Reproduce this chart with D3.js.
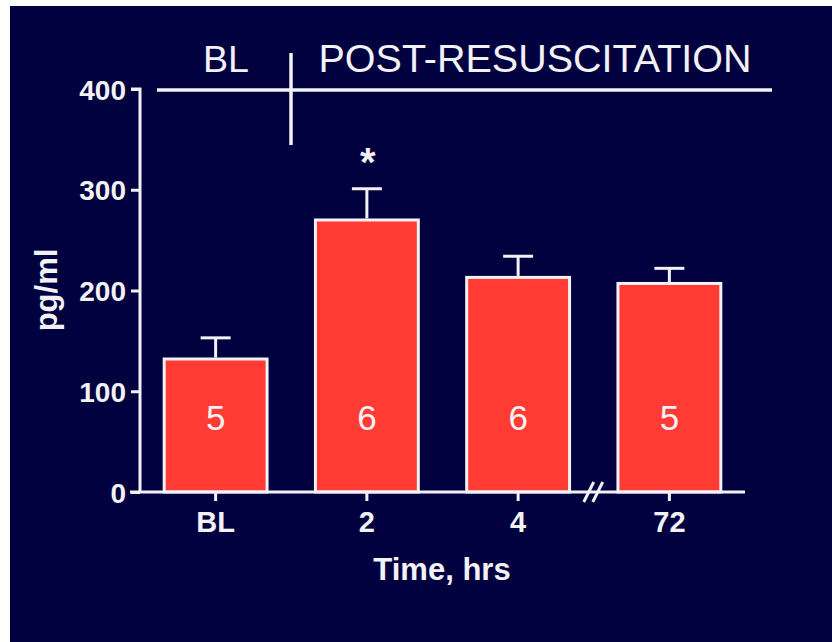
<!DOCTYPE html>
<html>
<head>
<meta charset="utf-8">
<script src="https://cdn.jsdelivr.net/npm/d3@7"></script>
<style>
  html, body { margin: 0; padding: 0; background: #ffffff; }
  svg { display: block; }
</style>
</head>
<body>
<svg id="chart" width="832" height="642"></svg>
<script>
// ---- data ----
const categories = ["BL", "2", "4", "72"];
const means = [132, 270, 213, 207];
const sem = [21, 31, 21, 15];
const nLabels = ["5", "6", "6", "5"];
const yTicks = [0, 100, 200, 300, 400];
const significant = [false, true, false, false];
const phaseLabels = ["BL", "POST-RESUSCITATION"];

// ---- styles ----
const navy = "#02013f";
const red = "#ff3b33";
const ink = "#f2f2f6";
const font = "'Liberation Sans', Arial, Helvetica, sans-serif";

const svg = d3.select("#chart");
svg.append("rect").attr("x", 10).attr("y", 6).attr("width", 822).attr("height", 636).attr("fill", navy);

const x = d3.scaleBand().domain(categories).range([140, 745]).paddingInner(0.3).paddingOuter(0.15);
const y = d3.scaleLinear().domain([0, 400]).range([492, 89]);

// bars
const g = svg.append("g");
g.selectAll("rect.bar").data(categories).join("rect")
  .attr("class", "bar")
  .attr("x", d => x(d) + 1.5)
  .attr("width", x.bandwidth() - 3)
  .attr("y", (d, i) => y(means[i]))
  .attr("height", (d, i) => y(0) - y(means[i]))
  .attr("fill", red).attr("stroke", ink).attr("stroke-width", 3);

// error bars
categories.forEach((c, i) => {
  const cx = x(c) + x.bandwidth() / 2;
  g.append("line").attr("x1", cx).attr("x2", cx)
    .attr("y1", y(means[i]) - 1.5).attr("y2", y(means[i] + sem[i]))
    .attr("stroke", ink).attr("stroke-width", 3);
  g.append("line").attr("x1", cx - 15).attr("x2", cx + 15)
    .attr("y1", y(means[i] + sem[i])).attr("y2", y(means[i] + sem[i]))
    .attr("stroke", ink).attr("stroke-width", 3);
  g.append("text").attr("x", cx).attr("y", 430)
    .attr("text-anchor", "middle").attr("fill", ink)
    .attr("font-family", font).attr("font-size", 35)
    .text(nLabels[i]);
  if (significant[i]) {
    g.append("text").attr("x", cx + 1).attr("y", y(means[i] + sem[i]) - 13)
      .attr("text-anchor", "middle").attr("fill", ink)
      .attr("font-family", font).attr("font-size", 40).attr("font-weight", "bold")
      .text("*");
  }
});

// y axis
const yAxis = svg.append("g").attr("transform", "translate(140,0)")
  .call(d3.axisLeft(y).tickValues(yTicks).tickSize(9).tickSizeOuter(0).tickPadding(5));
yAxis.select(".domain").attr("stroke", ink).attr("stroke-width", 3)
  .attr("d", `M-9,${y(400)}H0V${y(0)}`);
yAxis.selectAll(".tick line").attr("stroke", ink).attr("stroke-width", 3);
yAxis.selectAll(".tick text").attr("fill", ink).attr("font-family", font)
  .attr("font-size", 28).attr("font-weight", "bold").attr("dy", "0.36em");

// x axis
const xAxis = svg.append("g").attr("transform", `translate(0,${y(0)})`)
  .call(d3.axisBottom(x).tickSize(9).tickSizeOuter(0).tickPadding(10));
xAxis.select(".domain").attr("stroke", ink).attr("stroke-width", 3)
  .attr("d", `M130,0H745`);
xAxis.selectAll(".tick line").attr("stroke", ink).attr("stroke-width", 3);
xAxis.selectAll(".tick text").attr("fill", ink).attr("font-family", font)
  .attr("font-size", 29).attr("font-weight", "bold");

// axis break
const bx = (x("4") + x.bandwidth() + x("72")) / 2;
[-5, 4].forEach(o => {
  svg.append("line")
    .attr("x1", bx + o - 5).attr("y1", y(0) + 10)
    .attr("x2", bx + o + 5).attr("y2", y(0) - 10)
    .attr("stroke", ink).attr("stroke-width", 3);
});

// axis titles
svg.append("text").attr("x", 442).attr("y", 580)
  .attr("text-anchor", "middle").attr("fill", ink)
  .attr("font-family", font).attr("font-size", 31).attr("font-weight", "bold")
  .text("Time, hrs");
svg.append("text").attr("transform", "translate(57,290) rotate(-90)")
  .attr("text-anchor", "middle").attr("fill", ink)
  .attr("font-family", font).attr("font-size", 31).attr("font-weight", "bold")
  .text("pg/ml");

// phase header
svg.append("line").attr("x1", 157).attr("x2", 772).attr("y1", 90).attr("y2", 90)
  .attr("stroke", ink).attr("stroke-width", 3.5);
svg.append("line").attr("x1", 291).attr("x2", 291).attr("y1", 53).attr("y2", 145)
  .attr("stroke", ink).attr("stroke-width", 3.5);
svg.append("text").attr("x", 226).attr("y", 72).attr("text-anchor", "middle")
  .attr("fill", ink).attr("font-family", font).attr("font-size", 36)
  .attr("textLength", 46).attr("lengthAdjust", "spacingAndGlyphs").text(phaseLabels[0]);
svg.append("text").attr("x", 535).attr("y", 72).attr("text-anchor", "middle")
  .attr("fill", ink).attr("font-family", font).attr("font-size", 38)
  .attr("textLength", 433).attr("lengthAdjust", "spacingAndGlyphs").text(phaseLabels[1]);
</script>
</body>
</html>
